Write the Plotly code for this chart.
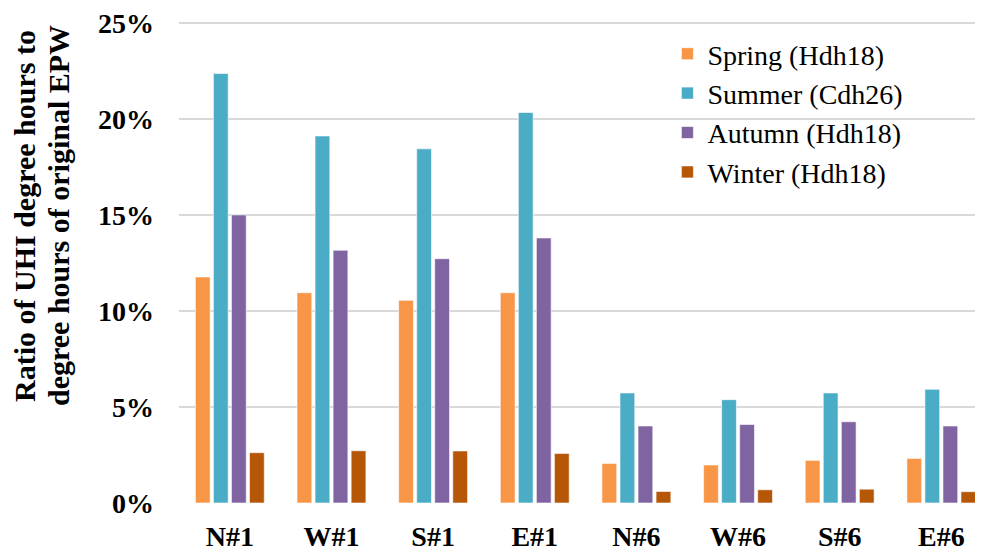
import plotly.graph_objects as go

categories = ["N#1", "W#1", "S#1", "E#1", "N#6", "W#6", "S#6", "E#6"]
spring = [0.1177, 0.1095, 0.1055, 0.1095, 0.0206, 0.0198, 0.0222, 0.0232]
summer = [0.2236, 0.1911, 0.1844, 0.2033, 0.0573, 0.0538, 0.0573, 0.0592]
autumn = [0.1500, 0.1316, 0.1272, 0.1380, 0.0401, 0.0409, 0.0423, 0.0401]
winter = [0.0262, 0.0272, 0.0271, 0.0258, 0.0060, 0.0069, 0.0072, 0.0059]
y_ticks = [0.0, 0.05, 0.10, 0.15, 0.20, 0.25]
y_tick_labels = ["0%", "5%", "10%", "15%", "20%", "25%"]
title_lines = ["Ratio of UHI degree hours to", "degree hours of original EPW"]

series = [
    ("Spring (Hdh18)", spring, "#F79646"),
    ("Summer (Cdh26)", summer, "#4BACC6"),
    ("Autumn (Hdh18)", autumn, "#8064A2"),
    ("Winter (Hdh18)", winter, "#B65708"),
]

fig = go.Figure()
for name, vals, color in series:
    fig.add_trace(go.Bar(
        x=categories, y=vals, name=name,
        marker=dict(color=color, line=dict(color="rgba(255,255,255,0.6)", width=1)),
    ))

FF = "Liberation Serif"

# page body has an 8px margin, so the figure is sized to fill the rest of the window
PLOT_H = 484
annotations = []
for line, xc in zip(title_lines, [24, 58]):
    annotations.append(dict(
        text=line, xref="paper", yref="paper",
        x=(xc - 179) / 804, y=(495 - 208) / PLOT_H,
        xanchor="center", yanchor="middle",
        textangle=-90, showarrow=False,
        font=dict(size=30, family=FF, color="black", weight="bold"),
    ))

fig.update_layout(
    width=975, height=546,
    margin=dict(l=171, r=0, t=11, b=51, autoexpand=False),
    paper_bgcolor="white", plot_bgcolor="white",
    barmode="group", bargap=0.29, bargroupgap=0.18,
    font=dict(family=FF, color="black"),
    showlegend=True,
    legend=dict(
        x=0.6075, y=(495 - 21) / PLOT_H, xanchor="left", yanchor="top",
        font=dict(size=28, family=FF, color="black"),
        bgcolor="rgba(0,0,0,0)", itemwidth=30,
    ),
    xaxis=dict(
        range=[-0.5, 7.41], automargin=False,
        showgrid=False, showline=False, zeroline=False,
        ticks="", ticklabelstandoff=14,
        tickfont=dict(size=28, family=FF, color="black", weight="bold"),
    ),
    yaxis=dict(
        range=[0, 0.252], tickvals=y_ticks, ticktext=y_tick_labels, automargin=False,
        showgrid=True, gridcolor="#D9D9D9", gridwidth=1.5,
        zeroline=False, showline=False, ticks="",
        ticklabelstandoff=24, ticklabeloverflow="allow",
        tickfont=dict(size=28, family=FF, color="black", weight="bold"),
    ),
    annotations=annotations,
)

fig.write_html("out.html")
